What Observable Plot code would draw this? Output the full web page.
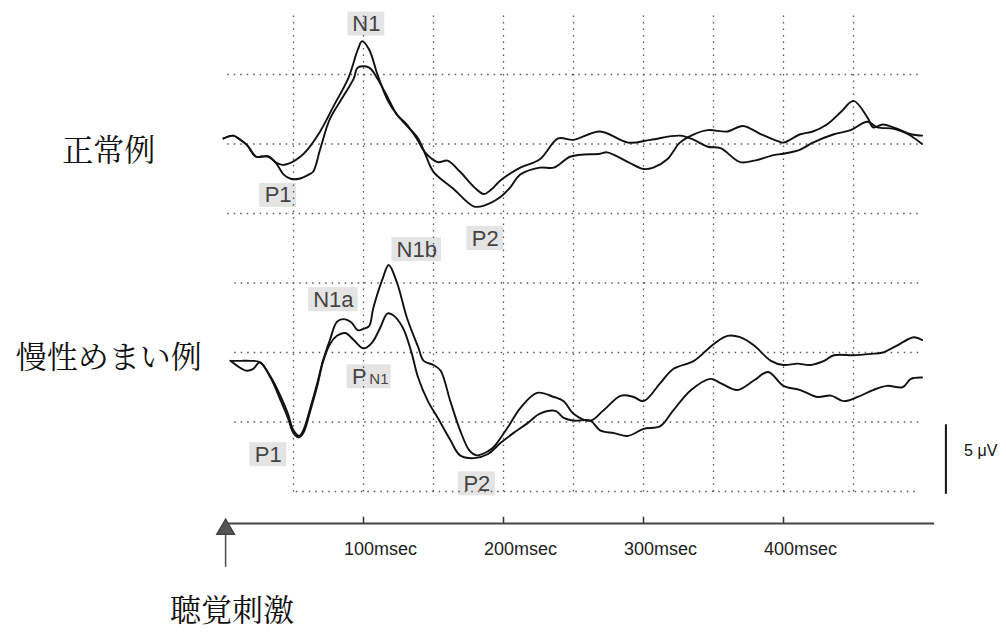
<!DOCTYPE html>
<html><head><meta charset="utf-8">
<script src="https://cdn.jsdelivr.net/npm/d3@7"></script>
<script src="https://cdn.jsdelivr.net/npm/@observablehq/plot@0.6"></script>
<style>html,body{margin:0;padding:0;background:#fff;}</style>
</head><body><div id="chart"></div>
<script>
// ---- data: [time (ms), amplitude (µV, negative = up)] ----
const normalTrace1 = [[0,-0.4],[7,-0.6],[12,-0.3],[17,0.1],[23,0.9],[28,0.9],[32,0.9],[37,1.3],[42,1.5],[49,1.3],[55,0.9],[60,0.4],[69,-0.9],[79,-2.8],[89,-4.7],[96,-6.8],[99,-7.4],[104,-6.8],[110,-5.0],[117,-3.2],[124,-2.1],[131,-1.4],[138,-0.4],[144,0.6],[153,1.3],[160,1.2],[169,2.0],[179,3.1],[186,3.6],[191,3.3],[198,2.6],[212,1.7],[226,1.1],[239,-0.4],[250,-0.3],[269,-0.9],[289,-0.1],[305,-0.3],[326,-0.6],[336,-0.3],[346,0.2],[355,0.3],[369,1.3],[379,1.2],[393,0.8],[400,0.7],[412,0.4],[421,-0.1],[436,-0.7],[448,-1.0],[460,-1.6],[467,-1.2],[479,-1.1],[489,-0.7],[499,0.0]];
const normalTrace2 = [[0,-0.4],[7,-0.6],[12,-0.3],[17,0.1],[23,0.9],[28,0.9],[32,0.9],[37,1.3],[43,2.2],[48,2.5],[54,2.5],[61,2.2],[64,2.0],[69,0.4],[76,-1.8],[86,-3.5],[93,-4.7],[96,-5.5],[104,-5.5],[110,-4.7],[116,-3.6],[124,-2.1],[131,-1.3],[139,-0.4],[144,0.7],[150,2.0],[164,3.2],[179,4.5],[187,4.4],[198,3.8],[205,3.1],[212,2.2],[226,1.7],[236,1.7],[248,0.9],[269,0.7],[274,0.6],[289,1.3],[300,1.8],[307,1.7],[317,1.1],[326,-0.1],[336,-0.7],[346,-1.0],[360,-0.9],[371,-1.3],[384,-0.7],[396,-0.2],[400,-0.1],[412,-0.7],[421,-0.9],[431,-1.4],[441,-2.3],[450,-3.1],[460,-1.9],[464,-1.2],[471,-1.4],[481,-1.1],[491,-0.7],[499,-0.6]];
const dizzyTrace1 = [[5,0.6],[12,0.6],[19,0.6],[26,0.7],[34,1.8],[41,3.2],[46,4.4],[50,5.6],[54,6.0],[57,5.6],[62,4.0],[67,2.2],[71,0.6],[76,-0.9],[81,-2.2],[86,-2.4],[91,-2.2],[96,-1.6],[100,-1.7],[104,-1.9],[107,-3.2],[114,-5.4],[118,-6.3],[124,-5.0],[131,-2.5],[139,-0.4],[143,0.6],[150,0.9],[155,1.3],[162,3.5],[169,5.6],[176,7.1],[181,7.4],[189,7.1],[193,6.8],[203,5.4],[212,4.0],[224,2.9],[236,3.2],[243,3.5],[250,4.4],[262,4.9],[271,4.2],[284,3.1],[293,3.2],[300,3.5],[312,2.2],[321,1.2],[336,0.6],[350,-0.6],[360,-1.2],[369,-1.1],[379,-0.5],[391,0.6],[400,0.9],[410,0.8],[419,0.9],[429,0.6],[436,0.2],[450,0.2],[462,0.1],[471,0.0],[481,-0.5],[493,-1.1],[499,-0.9]];
const dizzyTrace2 = [[5,0.6],[16,1.3],[21,1.2],[26,0.7],[34,1.9],[41,3.5],[46,4.7],[50,5.8],[54,6.1],[57,5.8],[62,4.2],[67,2.4],[71,0.7],[76,-0.6],[81,-1.2],[87,-1.4],[93,-0.9],[100,-0.3],[106,-0.7],[112,-1.8],[117,-2.8],[121,-2.7],[128,-1.8],[134,-0.1],[139,1.8],[146,3.5],[153,4.7],[162,6.3],[169,7.4],[179,7.6],[189,7.3],[198,6.5],[207,5.8],[217,5.1],[226,4.4],[237,4.2],[243,4.7],[250,4.9],[262,4.9],[269,5.6],[279,5.8],[289,6.0],[300,5.5],[312,5.3],[321,4.2],[334,2.7],[348,1.9],[355,2.2],[367,2.7],[379,2.0],[389,1.4],[400,2.4],[412,2.7],[424,3.2],[434,3.1],[443,3.5],[453,3.2],[464,2.7],[474,2.4],[485,2.5],[491,1.9],[499,1.8]];

const panelNames = ["正常例", "慢性めまい例"];
const tickTimes = [100, 200, 300, 400];
const tickLabels = ["100msec", "200msec", "300msec", "400msec"];
const gridTimes = [50, 100, 150, 200, 250, 300, 350, 400, 450];
const gridLevels = [-5, 0, 5];
const scaleBarMicroVolt = 5;
const stimulusLabel = "聴覚刺激";
const peakNames = ["N1", "P1", "P2", "N1b", "N1a", "P", "P1", "P2"];

// ---- layout (not data) ----
const panelOffset = [-15, 0];
const peakPos = [ // panel, t, v
  [0, 102, -8.63], [0, 39, 3.7], [0, 187, 6.8],
  [1, 138, -7.4], [1, 78.5, -3.8], [1, 97, 1.75], [1, 32, 7.35], [1, 181, 9.45]
];

const traces = [
  {id: "n1", panel: 0, pts: normalTrace1},
  {id: "n2", panel: 0, pts: normalTrace2},
  {id: "d1", panel: 1, pts: dizzyTrace1},
  {id: "d2", panel: 1, pts: dizzyTrace2}
];
const lineData = traces.flatMap(tr => tr.pts.map(([t, v]) => ({t, Y: v + panelOffset[tr.panel], id: tr.id})));

const hGrid = [];
panelOffset.forEach((off, p) => gridLevels.forEach(g => hGrid.push({Y: g + off, x1: p === 0 ? 3 : 8, x2: 497})));
hGrid.push({Y: 10 + panelOffset[1], x1: 52, x2: 497});

const labels = peakNames.map((s, i) => ({text: s, t: peakPos[i][1], Y: peakPos[i][2] + panelOffset[peakPos[i][0]]}));
const boxes = labels.map((d, i) => {
  const wpx = (i === 5 ? 44 : 12.5 * d.text.length + 12);
  const cx = i === 5 ? d.t + 7 : d.t;
  return {x1: cx - wpx / 2 / 1.4, x2: cx + wpx / 2 / 1.4, y1: d.Y - 12 / 13.9, y2: d.Y + 12 / 13.9};
});

const axisY = 12.3;
const fontLatin = "'Liberation Sans', Arial, sans-serif";
const fontCJK = "'Noto Serif CJK JP', 'Noto Sans CJK JP', serif";

const chart = Plot.plot({
  width: 1006, height: 634,
  marginLeft: 223, marginRight: 83, marginTop: 4.5, marginBottom: 73.5,
  x: {domain: [0, 500], axis: null},
  y: {domain: [-25, 15], range: [4.5, 560.5], axis: null},
  style: {background: "#fff"},
  marks: [
    Plot.rect(boxes, {x1: "x1", x2: "x2", y1: "y1", y2: "y2", fill: "#e4e4e4"}),
    Plot.ruleY(hGrid, {y: "Y", x1: "x1", x2: "x2", stroke: "#555", strokeWidth: 1.3, strokeDasharray: "1.5,5"}),
    Plot.ruleX(gridTimes, {x: d => d, y1: -24.2, y2: 10.3, stroke: "#555", strokeWidth: 1.3, strokeDasharray: "1.5,5"}),
    Plot.line(lineData, {x: "t", y: "Y", z: "id", stroke: "#111", strokeWidth: 1.9, curve: "catmull-rom"}),
    Plot.text(labels.filter((d, i) => i !== 5), {x: "t", y: "Y", text: "text", fontSize: 22, fill: "#444", fontFamily: fontLatin}),
    Plot.text([labels[5]], {x: "t", y: d => d.Y + 0.55, text: "text", fontSize: 22, fill: "#444", fontFamily: fontLatin, lineAnchor: "bottom"}),
    Plot.text([labels[5]], {x: d => d.t + 14, y: d => d.Y + 0.55, text: () => "N1", fontSize: 15, fill: "#444", fontFamily: fontLatin, lineAnchor: "bottom"}),
    // time axis
    Plot.ruleY([axisY], {x1: 0, x2: 508, stroke: "#444", strokeWidth: 2}),
    Plot.ruleX(tickTimes, {x: d => d, y1: axisY - 0.45, y2: axisY, stroke: "#333", strokeWidth: 1.5}),
    Plot.text(tickTimes, {x: d => d, y: 14.15, dx: 17, text: (d, i) => tickLabels[i], fontSize: 18, fill: "#222", fontFamily: fontLatin}),
    // stimulus arrow
    Plot.ruleX([1.5], {x: d => d, y1: 12.9, y2: 15.45, stroke: "#555", strokeWidth: 1.6}),
    Plot.dot([1.5], {x: d => d, y: 12.72, symbol: "triangle", r: 6.5, fill: "#555", stroke: "#444"}),
    Plot.text([stimulusLabel], {x: 6, y: 18.6, text: d => d, fontSize: 31, fill: "#111", fontFamily: fontCJK}),
    // scale bar
    Plot.ruleX([516], {x: d => d, y1: 5.2, y2: 5.2 + scaleBarMicroVolt, stroke: "#111", strokeWidth: 2}),
    Plot.text([scaleBarMicroVolt], {x: 529, y: 7.05, text: d => d + " μV", textAnchor: "start", fontSize: 16, fill: "#111", fontFamily: fontLatin}),
    // panel names
    Plot.text(panelNames, {x: -82, y: (d, i) => panelOffset[i] + (i === 0 ? 0.5 : 0.4), text: d => d, fontSize: 31, fill: "#111", fontFamily: fontCJK})
  ]
});
document.getElementById("chart").append(chart);
</script></body></html>
